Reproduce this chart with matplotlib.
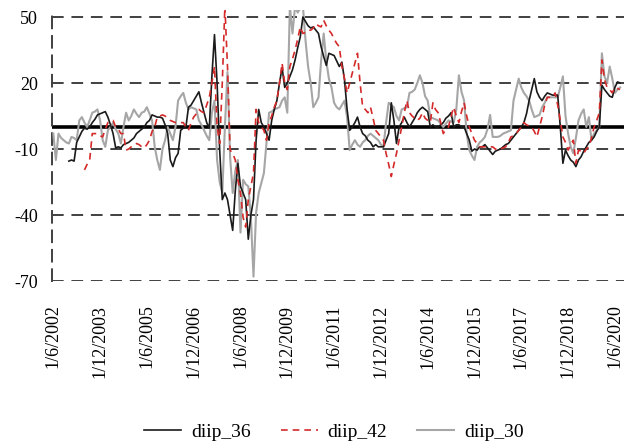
import numpy as np
import matplotlib
matplotlib.use("Agg")
import matplotlib.pyplot as plt

nan = np.nan

# monthly values, June 2002 .. August 2020
diip_36 = [nan, nan, nan, nan, nan, nan, -15.5, -15, -15.5, -7, -4.5, -2,
           -0.5, -1, 0, 2, 3.5, 5.5, 6, 6.5, 7, 4.5, 1, -3,
           -9.5, -9, -9.5, -8, -7.5, -7, -6, -5, -3, -2, -1, 0,
           2, 3, 5.5, 5, 4.5, 4.5, 4, 1, -3, -15, -18, -14,
           -12, -1.5, -0.5, 0, 9, 10, 12, 14, 16, 11, 6.5, 2,
           -0.5, 23, 42, 20, -10.5, -33, -30, -33, -40, -47, -29, -16.5,
           -27, -30, -33, -51, -40, -33, -6, 8, 2, 0, -3, -6,
           3, 8, 12, 20, 27, 18, 20, 23, 26, 30.5, 36, 41,
           50, 48, 46, 45, 45.5, 44, 42.5, 36.5, 32, 28, 33.5, 33,
           32.5, 30, 27.5, 29.5, 21.5, 8, -1.5, 0, 2, 4.5, 0, -3,
           -4, -6, -7, -9, -8, -9, -9, -9, -6, -3, 11, 3,
           -7.5, 0, 2, 4.5, 2, 0, 2, 4, 6.5, 8, 9, 8,
           7, 0, 1, 0, 0, 1, 2, 4, 5, 6.5, 0, 1,
           1, 0, 0, -3, -6, -11, -10, -10.5, -9, -9, -8, -9.5,
           -11, -12.5, -11, -10.5, -10, -9, -8, -7.5, -6, -4.5, -3, -1.5,
           0, 2, 6, 12, 17, 22, 16, 13.5, 12, 14, 15.5, 15,
           14.5, 14.5, 14.5, 0, -16.5, -10.5, -13, -15, -16, -18, -15, -13.5,
           -11, -9, -7, -6, -4.5, -2, 0, 19, 17, 15.5, 14, 13.5,
           18, 20.5, 20]

diip_42 = [nan] * 12 + [
           -19.5, -17, -15, -3, -3, -3, -4, -4.5, -1, 2, 2.5, 3,
           0, -1, -3, -3, -10.5, -10, -9, -8, -7.5, -8, -9, -9.5,
           -8, -6, -2, 0, 4.5, 5, 5.5, 5, 4, 3, 2.5, 2,
           2, 2, 2, 0, -1.5, 2, 4.5, 6, 8, 7, 6.5, 10,
           13.5, 20, 27.5, 0, -7.5, 20, 55, 27.5, -10.5, -12, -15, -24,
           -30, -41, -45.5, -33, -27, -21, 8, 2, 0, -1.5, -6, 2,
           5, 9, 12, 20, 29, 20, 17, 27.5, 31, 35, 40, 45.5,
           42.5, 43, 44, 44, 45, 47, 46, 45.5, 48.5, 46, 44, 42.5,
           40, 38, 36.5, 27.5, 22, 15.5, 20, 24.5, 29, 33.5, 20, 9,
           8, 6.5, 9, 4, -1.5, -3, -4.5, -6, -12, -17, -22.5, -17,
           -12, -6, 0, 6.5, 12, 6.5, 5, 4, 3, 4, 6.5, 4,
           3, 2, 11, 8, 6.5, 2, -3, -1, 0, 5, 9, 5,
           2, 7, 11, 5, 0, -3, -6, -7.5, -9, -9, -9, -9,
           -9, -9, -10, -10.5, -10, -9.5, -9, -7, -4.5, -4, -3, -1.5,
           0, 2, 1, 0.5, 0, -2, -4.5, 0, 4.5, 10, 13.5, 13.5,
           13.5, 15.5, 10, 3, -4.5, -7, -10.5, -8, -6, -16.5, -10.5, -11,
           -12, -10, -9, -5, 0, 3, 6.5, 30.5, 21.5, 18, 17, 15.5,
           18, 17.5, 17]

diip_30 = [-3, -15, -3, -5, -6, -7, -7.5, -4.5, -5, -6, 3, 4.5,
           2, 0, 3, 6.5, 7, 8, 3, -6, -9, -1.5, 0, 2,
           -1, -3, -7.5, 0, 6.5, 3, 5, 8, 6, 4.5, 6.5, 7,
           9, 6, 3, -9, -15, -19.5, -10, -6, 0, -3, -6, 0,
           12, 14, 15.5, 11, 8, 9, 8.5, 8, 3, 1, -1.5, -4,
           -6, 6.5, 12, -15, -25, -30, 0, 25, -13.5, -30, -20, -15,
           -48, -24, -26, -27, -41, -68, -39, -30, -25.5, -21, -7.5, 6.5,
           7, 8, 8.5, 9, 12, 13.5, 6.5, 55, 42.5, 55, 52, 54,
           55, 39.5, 27.5, 20, 9, 11, 13.5, 30, 42.5, 30, 22, 18,
           11, 9, 8, 10, 12, 4.5, -10.5, -8, -6, -8, -9, -7,
           -6, -4, -3, -4, -5, -6, -8, -9, 2, 11, 10, 9,
           5, 3, 8, 8.5, 9, 15.5, 16, 17, 20, 23.5, 20, 14,
           12, 4.5, 4, 3.5, 3, 1.5, 0, 1.5, 3, 2.5, 2, 8,
           23.5, 16, 12, -3, -10.5, -13, -15, -9, -7, -6, -4.5, -1,
           5.5, -4.5, -4.5, -4.5, -4, -3, -2.5, -2, -1.5, 12, 17, 22,
           18, 15.5, 14, 12, 8, 4.5, 5, 5.5, 9, 11, 13.5, 13.5,
           13.5, 13.5, 13.5, 18, 23, 5, -3, -9, -12, -5, 3, 6,
           8, 0, 4.5, -6, -3, -1.5, 0, 33.5, 23, 20, 27.5, 22,
           15.5, 17, 18]

tick_labels = ["1/6/2002", "1/12/2003", "1/6/2005", "1/12/2006", "1/6/2008",
               "1/12/2009", "1/6/2011", "1/12/2012", "1/6/2014", "1/12/2015",
               "1/6/2017", "1/12/2018", "1/6/2020"]
y_ticks = [50, 20, -10, -40, -70]

plt.rcParams["font.family"] = "Liberation Serif"
plt.rcParams["axes.unicode_minus"] = False

x = np.arange(len(diip_30))

fig = plt.figure(figsize=(6.24, 4.41), dpi=100)
ax = fig.add_axes([0.0833, 0.3628, 0.9167, 0.6136])

for yv in y_ticks:
    ax.axhline(yv, color="#404040", lw=1.4, ls=(0, (6, 4)), zorder=1)
ax.axhline(0, color="black", lw=2.6, zorder=2)

ax.plot(x, diip_36, color="#1a1a1a", lw=1.2, label="diip_36", zorder=4)
ax.plot(x, diip_42, color="#d42a2a", lw=1.2, ls=(0, (4, 3)), label="diip_42", zorder=5)
ax.plot(x, diip_30, color="#a6a6a6", lw=1.5, label="diip_30", zorder=3)

ax.set_xlim(-0.5, 219.5)
ax.set_ylim(-70, 53)

for s in ["top", "right", "bottom"]:
    ax.spines[s].set_visible(False)
ax.spines["left"].set_linestyle((0, (6, 4)))
ax.spines["left"].set_color("#404040")
ax.spines["left"].set_linewidth(1.4)

ax.set_yticks(y_ticks)
ax.tick_params(axis="y", length=0, pad=10, labelsize=13)
ax.set_xticks(x[::18])
ax.set_xticklabels(tick_labels, rotation=90, fontsize=13)
ax.tick_params(axis="x", length=0, pad=17)

fig.legend(loc="center", bbox_to_anchor=(0.535, 0.021), ncol=3,
           frameon=False, fontsize=14, handlelength=1.9, handletextpad=0.5,
           columnspacing=1.55)

plt.savefig("out.png", dpi=100)
